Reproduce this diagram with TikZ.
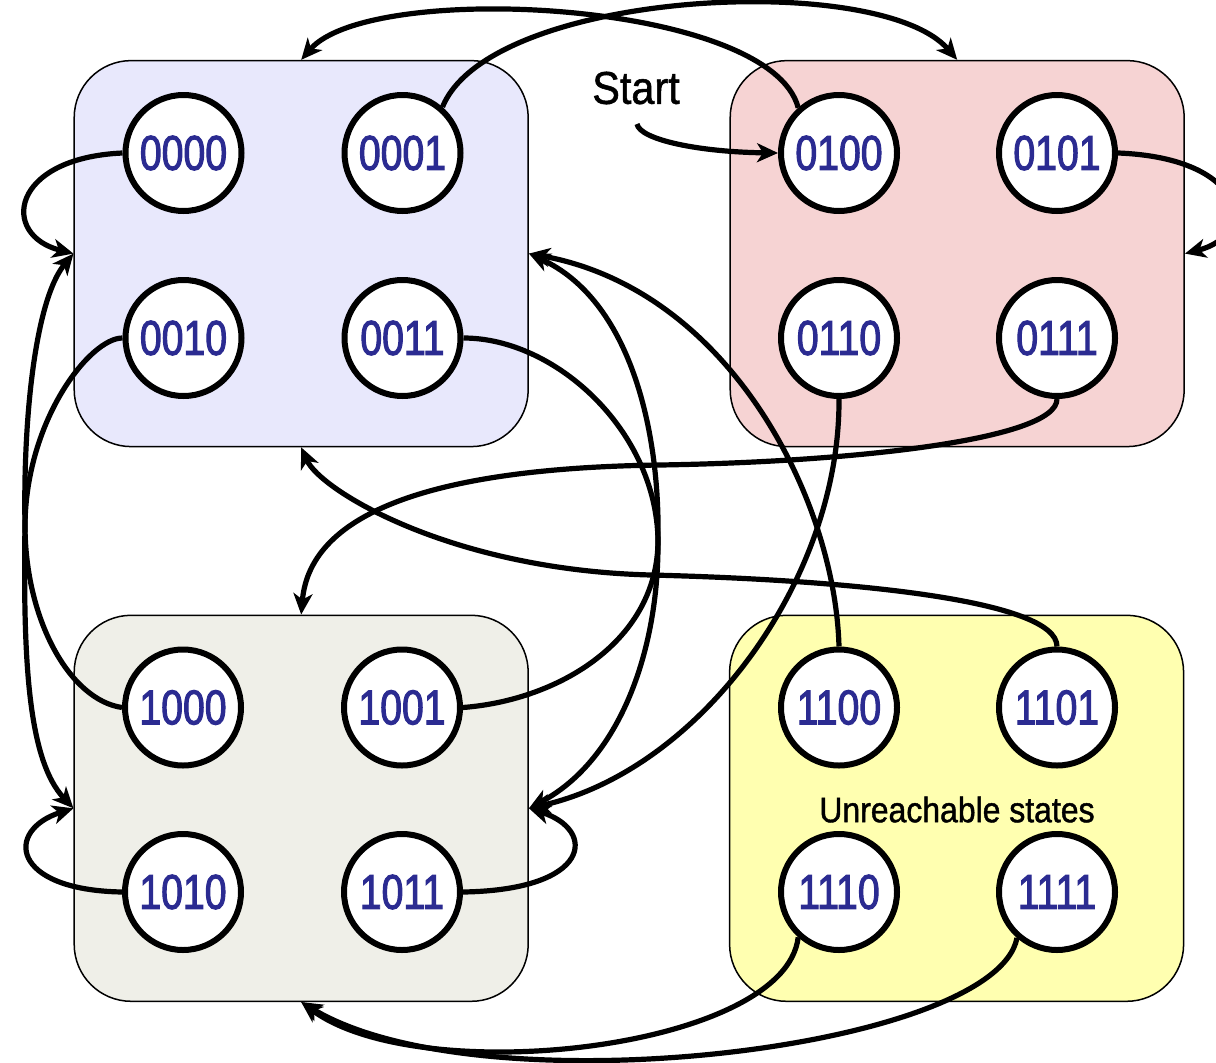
\documentclass[tikz,border=0pt]{standalone}
\usepackage{fontspec}
\setmainfont{Liberation Sans}
\newfontfamily\statefont[FakeStretch=0.8,FakeBold=2]{Liberation Sans}
\newfontfamily\notefont[FakeStretch=0.9,FakeBold=1.2]{Liberation Sans}
\usetikzlibrary{arrows.meta}

\definecolor{stateblue}{RGB}{43,43,145}
\definecolor{groupblue}{RGB}{232,232,252}
\definecolor{groupred}{RGB}{246,211,211}
\definecolor{groupgray}{RGB}{239,239,232}
\definecolor{groupyellow}{RGB}{255,255,176}

\begin{document}
\begin{tikzpicture}[x=1pt,y=-1pt,
  group/.style={draw=black, line width=1.5pt, rounded corners=57pt,
    minimum width=454pt, minimum height=386pt, inner sep=0pt},
  state/.style={circle, draw=black, fill=white, line width=6pt,
    minimum size=116pt, inner sep=0pt, text=stateblue,
    font=\statefont\fontsize{49}{49}\selectfont},
  note/.style={inner sep=0pt, text=black},
  trans/.style={draw=black, line width=5.2pt,
    -{Stealth[length=21pt,width=19pt,inset=6pt]}}
]
\useasboundingbox (0,0) rectangle (1216,1063);

% groups of states
\node[group, fill=groupblue]   (gA) at (301.2,253.6) {};
\node[group, fill=groupred]    (gB) at (957.2,253.6) {};
\node[group, fill=groupgray]   (gC) at (301.2,808.3) {};
\node[group, fill=groupyellow] (gD) at (956.6,808.3) {};

% states
\node[state] (s0000) at (183.5,153) {0000};
\node[state] (s0001) at (402.5,153) {0001};
\node[state] (s0010) at (183.5,338) {0010};
\node[state] (s0011) at (402.5,338) {0011};
\node[state] (s0100) at (839,153)   {0100};
\node[state] (s0101) at (1057,153)  {0101};
\node[state] (s0110) at (839,338)   {0110};
\node[state] (s0111) at (1057,338)  {0111};
\node[state] (s1000) at (183,707.5) {1000};
\node[state] (s1001) at (402,707.5) {1001};
\node[state] (s1010) at (183,892)   {1010};
\node[state] (s1011) at (402,892)   {1011};
\node[state] (s1100) at (839,707.5) {1100};
\node[state] (s1101) at (1057,707.5){1101};
\node[state] (s1110) at (839,892)   {1110};
\node[state] (s1111) at (1057,892)  {1111};

% labels
\node[note, font=\notefont\fontsize{46}{46}\selectfont] (startlbl) at (636,88) {Start};
\node[note, font=\notefont\fontsize{35.5}{36}\selectfont] (unreach) at (957,809.5) {Unreachable states};
\coordinate (starttail) at (637,124);

% start arrow
\draw[trans] (starttail) .. controls (640,140) and (700,152) .. (s0100.west);

% self loops onto the own group
\draw[trans] (s0000.west) .. controls (10,158) and (0,235) .. (gA.west);
\draw[trans] (s0101.east) .. controls (1248,158) and (1258,235) .. (gB.east);
\draw[trans] (s1010.west) .. controls (10,890) and (5,830) .. (gC.west);
\draw[trans] (s1011.east) .. controls (592,890) and (597,830) .. (gC.east);

% long arcs over the top
\draw[trans] (s0001.49) .. controls (490,-10) and (880,-30) .. (gB.north);
\draw[trans] (s0100.132) .. controls (770,0) and (370,-20) .. (gA.north);

% left side: the two arcs touch at their leftmost point
\draw[trans] (s0010.west) .. controls (90,338) and (26,420) .. (25,525)
  .. controls (23,660) and (28,760) .. (gC.west);
\draw[trans] (s1000.west) .. controls (70,700) and (25,620) .. (25,525)
  .. controls (23,420) and (35,300) .. (gA.west);

% between the left groups on the right side
\draw[trans] (s0011.east) .. controls (555,338) and (656,430) .. (658,540)
  .. controls (659,650) and (620,760) .. (gC.east);
\draw[trans] (s1001.east) .. controls (560,700) and (658,640) .. (658,540)
  .. controls (660,430) and (630,300) .. (gA.east);

% from the red group
\draw[trans] (s0110.south) .. controls (840,580) and (700,770) .. (gC.east);
\draw[trans] (s0111.south) .. controls (1057,440) and (850,462) .. (660,465)
  .. controls (440,468) and (310,510) .. (gC.north);

% from the unreachable states
\draw[trans] (s1100.north) .. controls (835,500) and (730,290) .. (gA.east);
\draw[trans] (s1101.north) .. controls (1057,600) and (850,580) .. (651,575)
  .. controls (450,570) and (320,490) .. (gA.south);
\draw[trans] (s1110.228) .. controls (785,1050) and (420,1090) .. (gC.south);
\draw[trans] (s1111.229) .. controls (995,1050) and (480,1110) .. (gC.south);
\end{tikzpicture}
\end{document}
